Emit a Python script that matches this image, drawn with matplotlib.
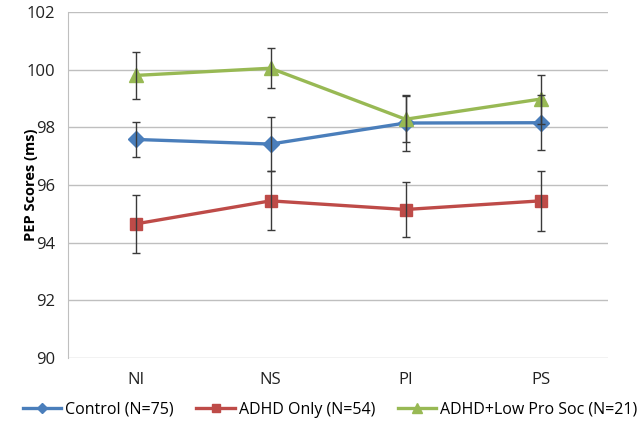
import matplotlib.pyplot as plt
import numpy as np

plt.rcParams['font.family'] = ['Open Sans', 'DejaVu Sans']

# ---- data ----
conditions = ['NI', 'NS', 'PI', 'PS']

control_mean = [97.58, 97.42, 98.15, 98.16]
control_err = [0.62, 0.95, 0.97, 0.95]

adhd_mean = [94.65, 95.45, 95.15, 95.45]
adhd_err = [1.00, 1.02, 0.97, 1.03]

lowpro_mean = [99.80, 100.05, 98.28, 98.98]
lowpro_err = [0.80, 0.70, 0.80, 0.85]

series = [
    ('Control (N=75)', control_mean, control_err, '#4a7ebb', 'D', 8),
    ('ADHD Only (N=54)', adhd_mean, adhd_err, '#be4b48', 's', 9),
    ('ADHD+Low Pro Soc (N=21)', lowpro_mean, lowpro_err, '#98b954', '^', 10),
]

# ---- plot ----
fig = plt.figure(figsize=(6.41, 4.29), dpi=100)
ax = fig.add_axes([68 / 641, 1 - 358 / 429, 540 / 641, 346 / 429])

x = np.arange(len(conditions))
for label, m, e, col, mk, ms in series:
    ax.plot(x, m, color=col, lw=2.4, marker=mk, ms=ms, label=label, zorder=3)
    ax.errorbar(x, m, yerr=e, fmt='none', ecolor='#3a3a3a', elinewidth=1,
                capsize=3, capthick=1, zorder=4)

ax.set_xlim(-0.5, len(conditions) - 0.5)
ax.set_ylim(90, 102)
ax.set_yticks(np.arange(90, 103, 2))
ax.set_xticks(x)
ax.set_xticklabels(conditions)
ax.yaxis.grid(True, color='#bfbfbf', lw=1)
ax.set_axisbelow(True)
for s in ['top', 'right', 'bottom']:
    ax.spines[s].set_visible(False)
ax.spines['left'].set_color('#bfbfbf')
ax.tick_params(length=0, labelsize=12, colors='#222222')
ax.tick_params(axis='x', pad=10)
ax.tick_params(axis='y', pad=9)
ax.set_ylabel('PEP Scores (ms)', fontsize=10.5, fontweight='bold')
ax.yaxis.set_label_coords(-0.056, 0.5)

fig.legend(loc='center', bbox_to_anchor=(0.515, 1 - 410 / 429),
           ncol=3, frameon=False, fontsize=11.5, handlelength=2.4,
           handletextpad=0.25, columnspacing=1.4, markerscale=0.7)

fig.savefig('out.png', dpi=100)
